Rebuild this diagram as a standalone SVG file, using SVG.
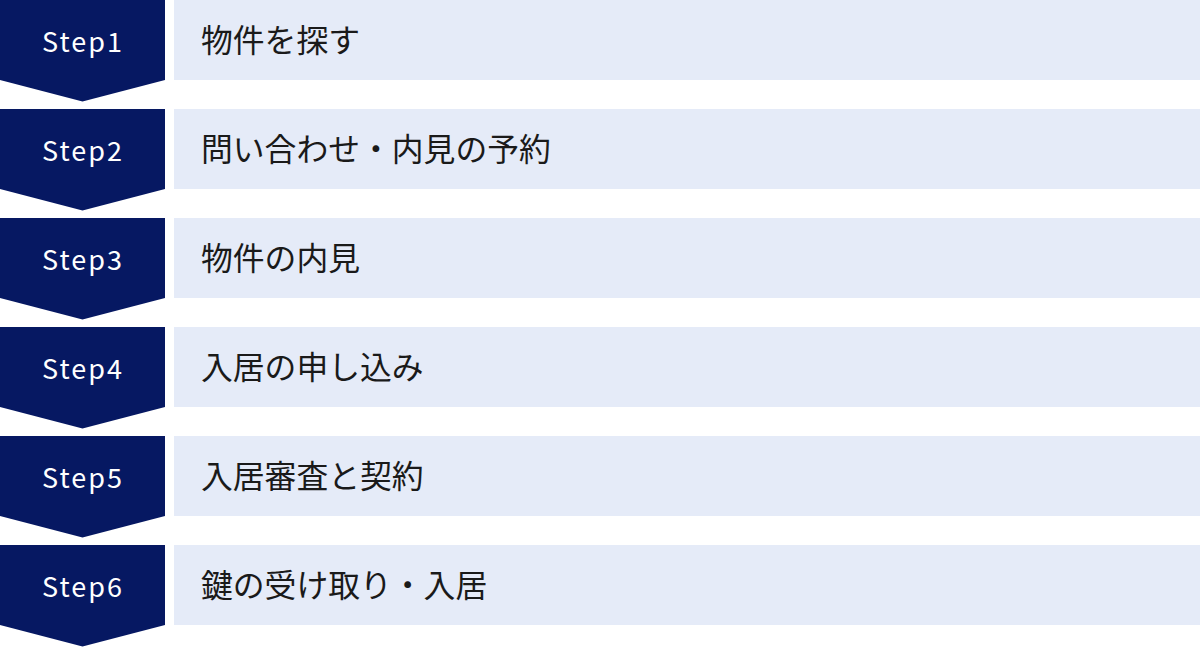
<svg xmlns="http://www.w3.org/2000/svg" width="1200" height="647" viewBox="0 0 1200 647">
<defs>
<style>
.arrow{fill:#061862}
.box{fill:#E5EBF8}
.step{font-family:"Noto Sans CJK JP","Noto Sans",sans-serif;font-size:27px;font-weight:400;fill:#ffffff;letter-spacing:2px;text-anchor:middle}
.label{font-family:"Noto Sans CJK JP","Noto Sans",sans-serif;font-size:31.8px;font-weight:400;fill:#1a1a1a}
</style>
<polygon id="chev" class="arrow" points="0,0 165,0 165,80 82.5,101.5 0,80"/>
</defs>
<rect width="1200" height="647" fill="#ffffff"/>
<g id="step1" transform="translate(0,0)">
<use href="#chev"/>
<rect class="box" x="174" y="0" width="1026" height="80"/>
<text class="step" x="83" y="52">Step1</text>
<text class="label" x="201" y="52">物件を探す</text>
</g>
<g id="step2" transform="translate(0,109)">
<use href="#chev"/>
<rect class="box" x="174" y="0" width="1026" height="80"/>
<text class="step" x="83" y="52">Step2</text>
<text class="label" x="201" y="52">問い合わせ・内見の予約</text>
</g>
<g id="step3" transform="translate(0,218)">
<use href="#chev"/>
<rect class="box" x="174" y="0" width="1026" height="80"/>
<text class="step" x="83" y="52">Step3</text>
<text class="label" x="201" y="52">物件の内見</text>
</g>
<g id="step4" transform="translate(0,327)">
<use href="#chev"/>
<rect class="box" x="174" y="0" width="1026" height="80"/>
<text class="step" x="83" y="52">Step4</text>
<text class="label" x="201" y="52">入居の申し込み</text>
</g>
<g id="step5" transform="translate(0,436)">
<use href="#chev"/>
<rect class="box" x="174" y="0" width="1026" height="80"/>
<text class="step" x="83" y="52">Step5</text>
<text class="label" x="201" y="52">入居審査と契約</text>
</g>
<g id="step6" transform="translate(0,545)">
<use href="#chev"/>
<rect class="box" x="174" y="0" width="1026" height="80"/>
<text class="step" x="83" y="52">Step6</text>
<text class="label" x="201" y="52">鍵の受け取り・入居</text>
</g>
<g id="connectors"></g>
</svg>
